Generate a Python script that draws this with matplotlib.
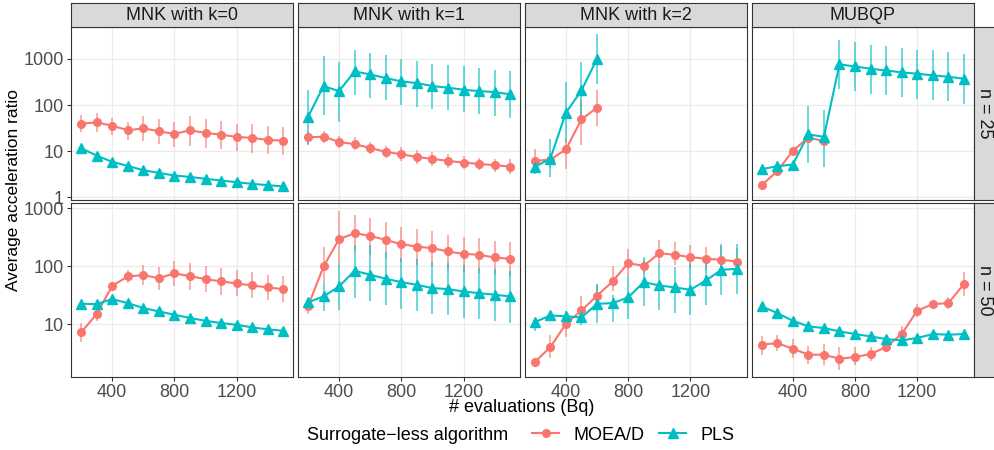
import matplotlib
matplotlib.use("Agg")
import matplotlib.pyplot as plt
from matplotlib.lines import Line2D

plt.rcParams['font.family'] = ['Liberation Sans', 'DejaVu Sans']

evals = [200, 300, 400, 500, 600, 700, 800, 900, 1000, 1100, 1200, 1300, 1400, 1500]
problems = ["MNK with k=0", "MNK with k=1", "MNK with k=2", "MUBQP"]
sizes = ["n = 25", "n = 50"]

# ---- n = 25 ----
k0_n25_moead = [39.5, 42, 35.8, 28.4, 31.4, 27, 23.7, 28.4, 24.9, 22.9, 20.4, 19.4, 17.6, 17]
k0_n25_moead_lo = [26.1, 26.1, 22.9, 17.9, 16.7, 14.2, 12.4, 13.3, 12.0, 11.0, 10.3, 9.2, 8.6, 8.1]
k0_n25_moead_hi = [59.8, 68.3, 53.3, 43.0, 56.9, 49.0, 43.0, 56.9, 49.0, 45.1, 38.3, 38.9, 35.8, 34.1]
k0_n25_pls = [11.6, 8.06, 5.89, 4.83, 3.89, 3.41, 2.98, 2.79, 2.53, 2.33, 2.14, 1.97, 1.85, 1.73]

k1_n25_moead = [20, 20.7, 15.9, 14.2, 11.8, 9.7, 8.6, 7.55, 6.83, 6.19, 5.7, 5.33, 4.99, 4.67]
k1_n25_moead_lo = [14.6, 15.1, 11.8, 10.5, 8.6, 7.06, 6.19, 5.42, 4.91, 4.44, 4.09, 3.89, 3.58, 3.19]
k1_n25_moead_hi = [27.5, 27.5, 21.1, 20.4, 15.9, 12.8, 12.4, 10.5, 9.68, 8.6, 7.93, 7.3, 6.95, 6.72]
k1_n25_pls = [55, 257, 200, 533, 459, 383, 324, 298, 257, 237, 214, 200, 191, 170]
k1_n25_pls_lo = [13.5, 59.8, 43, 162, 144, 126, 98, 90.5, 82, 76.7, 70.6, 65, 58.9, 53.3]
k1_n25_pls_hi = [207, 1123, 848, 1564, 1347, 1180, 968, 876, 780, 718, 683, 629, 579, 533]

k2_n25_moead = [6.19, 6.61, 11.0, 49, 87.6]
k2_n25_moead_lo = [3.76, 4.59, 4.23, 13.9, 34.6]
k2_n25_moead_hi = [11.4, 9.2, 18.8, 126, 214]
k2_n25_pls = [4.59, 6.95, 68.3, 207, 1000]
k2_n25_pls_lo = [3.19, 2.79, 15.9, 46.7, 289]
k2_n25_pls_hi = [6.4, 18.8, 314, 848, 3465]

mubqp_n25_moead = [1.85, 3.7, 10.2, 19.7, 16.7]
mubqp_n25_moead_lo = [1.45, 2.9, 8.3, 16, 13.5]
mubqp_n25_moead_hi = [2.3, 4.6, 12.5, 24, 20]
mubqp_n25_pls = [4.09, 4.75, 5.16, 23.3, 20.4, 755, 683, 608, 560, 507, 475, 437, 409, 370]
mubqp_n25_pls_lo = [3.8, 4.4, 4.8, 5.6, 4.59, 225, 200, 176, 162, 149, 135, 126, 120, 107]
mubqp_n25_pls_hi = [4.4, 5.1, 5.5, 93.6, 79.3, 2570, 2290, 2005, 1877, 1700, 1564, 1513, 1393, 1282]

# ---- n = 50 ----
k0_n50_moead = [7.18, 14.9, 45.8, 66.4, 70, 62.1, 74.8, 67.3, 59.7, 54.5, 50.2, 46.4, 42.9, 40.1]
k0_n50_moead_lo = [4.9, 11.4, 40.1, 50.9, 46.4, 39.1, 44.6, 39.1, 35.7, 32.1, 30, 28, 26.3, 23.9]
k0_n50_moead_hi = [10.4, 18.9, 53, 86.5, 105, 94.8, 124, 113, 98.6, 92.5, 86.5, 78.9, 71, 68.1]
k0_n50_pls = [22.4, 22.1, 27, 23, 18.9, 16.5, 14.5, 12.7, 11.4, 10.4, 9.7, 8.77, 8.09, 7.67]

k1_n50_moead = [20.2, 98.6, 292, 371, 333, 284, 239, 218, 204, 179, 163, 157, 141, 134]
k1_n50_moead_lo = [14.9, 53, 113, 179, 157, 137, 120, 105, 98.6, 86.5, 78.9, 75.7, 71, 66.4]
k1_n50_moead_hi = [26.3, 218, 900, 767, 673, 574, 483, 441, 406, 347, 324, 312, 274, 256]
k1_n50_pls = [23.7, 30, 44.6, 83.2, 71, 60.6, 53, 47.6, 41.8, 40.1, 36.5, 34.2, 32.1, 30]
k1_n50_pls_lo = [18.9, 16.5, 17.7, 28, 24.6, 21, 18.2, 16.5, 14.9, 14.1, 12.7, 12.2, 11.1, 10.4]
k1_n50_pls_hi = [28, 53, 113, 233, 233, 174, 137, 134, 120, 113, 103, 92.5, 89.9, 83.2]

k2_n50_moead = [2.21, 4.01, 10.1, 17.2, 30.8, 54.5, 113, 101, 167, 157, 143, 134, 129, 120]
k2_n50_moead_lo = [1.79, 2.6, 5.89, 10.4, 21.5, 36.5, 66.4, 75.7, 113, 103, 92.5, 86.5, 84.1, 75.7]
k2_n50_moead_hi = [2.6, 6.38, 13.6, 30, 47.6, 98.6, 199, 129, 284, 259, 233, 218, 225, 204]
k2_n50_pls = [10.8, 14.1, 13.6, 13, 22.4, 23, 28.8, 53, 46.4, 42.9, 39.1, 56.6, 86.5, 89.9]
k2_n50_pls_lo = [7.67, 11.1, 11.1, 9.74, 10.4, 10.7, 12.2, 20.2, 17.7, 15.5, 14.5, 21.5, 32.1, 33.3]
k2_n50_pls_hi = [12.7, 16.1, 16.5, 15.5, 49, 32.1, 66.4, 141, 113, 94.8, 113, 137, 239, 239]

mubqp_n50_moead = [4.41, 4.7, 3.76, 2.96, 2.96, 2.52, 2.7, 3.04, 4.01, 6.73, 17, 22.1, 23, 49]
mubqp_n50_moead_lo = [2.96, 3.38, 2.6, 2.04, 1.99, 1.63, 1.94, 2.27, 3.38, 5.02, 13, 18.4, 18.4, 30]
mubqp_n50_moead_hi = [6.12, 6.55, 5.58, 4.12, 4.58, 3.96, 3.96, 3.96, 4.7, 9.12, 22.1, 26.3, 28.8, 78.9]
mubqp_n50_pls = [20.2, 15.5, 11.4, 9.12, 8.54, 7.48, 6.73, 6.12, 5.51, 5.23, 5.74, 6.73, 6.55, 6.73]

panels = [
    [(k0_n25_moead, k0_n25_moead_lo, k0_n25_moead_hi, k0_n25_pls, None, None),
     (k1_n25_moead, k1_n25_moead_lo, k1_n25_moead_hi, k1_n25_pls, k1_n25_pls_lo, k1_n25_pls_hi),
     (k2_n25_moead, k2_n25_moead_lo, k2_n25_moead_hi, k2_n25_pls, k2_n25_pls_lo, k2_n25_pls_hi),
     (mubqp_n25_moead, mubqp_n25_moead_lo, mubqp_n25_moead_hi, mubqp_n25_pls, mubqp_n25_pls_lo, mubqp_n25_pls_hi)],
    [(k0_n50_moead, k0_n50_moead_lo, k0_n50_moead_hi, k0_n50_pls, None, None),
     (k1_n50_moead, k1_n50_moead_lo, k1_n50_moead_hi, k1_n50_pls, k1_n50_pls_lo, k1_n50_pls_hi),
     (k2_n50_moead, k2_n50_moead_lo, k2_n50_moead_hi, k2_n50_pls, k2_n50_pls_lo, k2_n50_pls_hi),
     (mubqp_n50_moead, mubqp_n50_moead_lo, mubqp_n50_moead_hi, mubqp_n50_pls, None, None)],
]

RED = "#F8766D"
CYAN = "#00BFC4"
W, H = 995, 450
FS = 13

fig = plt.figure(figsize=(W / 100, H / 100), dpi=100)

def px(x0, y0, x1, y1):
    return [x0 / W, 1 - y1 / H, (x1 - x0) / W, (y1 - y0) / H]

def series(ax, y, lo, hi, color, marker, ms):
    x = evals[:len(y)]
    if lo is not None:
        ax.vlines(x, lo, hi, color=color, lw=1.1, alpha=0.75, zorder=2)
    ax.plot(x, y, color=color, lw=1.5, zorder=3)
    ax.plot(x, y, ls="none", marker=marker, ms=ms, color=color, mec=color, zorder=4)

left, right = 71, 974
gap = 4.4
pw = (right - left - 3 * gap) / 4
rows_y = [(26.5, 199.5), (203, 377)]
ylims = [(0.905, 4990), (1.22, 1230)]
yticks = [[1, 10, 100, 1000], [10, 100, 1000]]

for r in range(2):
    y0, y1 = rows_y[r]
    for c in range(4):
        x0 = left + c * (pw + gap)
        ax = fig.add_axes(px(x0, y0, x0 + pw, y1))
        m, mlo, mhi, p, plo, phi = panels[r][c]
        series(ax, m, mlo, mhi, RED, "o", 5.5)
        series(ax, p, plo, phi, CYAN, "^", 7.5)
        ax.set_yscale("log")
        ax.set_ylim(*ylims[r])
        ax.set_xlim(135, 1565)
        ax.set_xticks([400, 800, 1200])
        ax.set_yticks(yticks[r])
        ax.set_yticklabels([str(v) for v in yticks[r]])
        ax.minorticks_off()
        ax.grid(True, color="#EBEBEB", lw=0.9, zorder=0)
        ax.set_axisbelow(True)
        for s in ax.spines.values():
            s.set_color("#333333")
            s.set_linewidth(0.8)
        ax.tick_params(colors="#333333", labelcolor="#4D4D4D", labelsize=FS,
                       length=3, width=0.8, pad=2)
        if r == 0:
            ax.tick_params(axis="x", length=0, labelbottom=False)
        if c > 0:
            ax.tick_params(axis="y", length=0, labelleft=False)
        # top strips
        if r == 0:
            sax = fig.add_axes(px(x0, 3, x0 + pw, 26.5))
            sax.set_facecolor("#D9D9D9")
            sax.set_xticks([])
            sax.set_yticks([])
            for s in sax.spines.values():
                s.set_color("#333333")
                s.set_linewidth(0.8)
            sax.text(0.5, 0.45, problems[c], ha="center", va="center",
                     fontsize=FS, color="#1A1A1A", transform=sax.transAxes)
    # right strip
    rax = fig.add_axes(px(right, y0, 996, y1))
    rax.set_facecolor("#D9D9D9")
    rax.set_xticks([])
    rax.set_yticks([])
    for s in rax.spines.values():
        s.set_color("#333333")
        s.set_linewidth(0.8)
    rax.text(0.5, 0.5, sizes[r], ha="center", va="center", rotation=-90,
             fontsize=FS, color="#1A1A1A", transform=rax.transAxes)

fig.text(14 / W, 1 - 190 / H, "Average acceleration ratio", rotation=90,
         ha="center", va="center", fontsize=12.5)
fig.text(522 / W, 1 - 408 / H, "# evaluations (Bq)", ha="center", va="center",
         fontsize=FS)

fig.text(307 / W, 1 - 435 / H, "Surrogate\u2212less algorithm", ha="left",
         va="center", fontsize=FS)
handles = [Line2D([], [], color=RED, lw=1.5, marker="o", ms=5.5),
           Line2D([], [], color=CYAN, lw=1.5, marker="^", ms=7.5)]
fig.legend(handles, ["MOEA/D", "PLS"], loc="center left",
           bbox_to_anchor=(532 / W, 1 - 435 / H), ncol=2, frameon=False,
           fontsize=FS, handlelength=1.5, handletextpad=0.8, columnspacing=0.8,
           borderpad=0, borderaxespad=0)

fig.savefig("out.png", dpi=100)
